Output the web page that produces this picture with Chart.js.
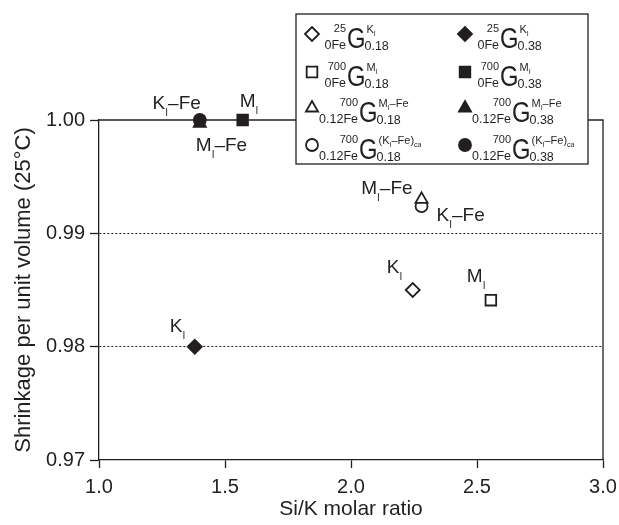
<!DOCTYPE html>
<html>
<head>
<meta charset="utf-8">
<script src="https://cdn.jsdelivr.net/npm/chart.js@4.4.1/dist/chart.umd.min.js"></script>
<style>
html, body { margin: 0; padding: 0; background: #fff; }
</style>
</head>
<body>
<canvas id="myChart" width="619" height="525"></canvas>
<script>
const ink = '#231f20';
const face = '"Liberation Sans", Arial, Helvetica, sans-serif';

// one point per gel: Si/K molar ratio vs shrinkage per unit volume at 25 C
const pointNames = ['K', 'K', 'M', 'M', 'M–Fe', 'M–Fe', 'K–Fe', 'K–Fe'];
const siK = [2.245, 1.38, 2.555, 1.57, 2.28, 1.40, 2.28, 1.40];
const shrinkage = [0.985, 0.980, 0.9841, 1.000, 0.9930, 0.9997, 0.9924, 1.000];
const pointStyles = ['rectRot', 'rectRot', 'rect', 'rect', 'triangle', 'triangle', 'circle', 'circle'];
const filled = [false, true, false, true, false, true, false, true];

// legend text pieces
const legendTemp = ['25', '25', '700', '700', '700', '700', '700', '700'];
const legendFe = ['0Fe', '0Fe', '0Fe', '0Fe', '0.12Fe', '0.12Fe', '0.12Fe', '0.12Fe'];
const legendRatio = ['0.18', '0.38', '0.18', '0.38', '0.18', '0.38', '0.18', '0.38'];

const xTicks = [1.0, 1.5, 2.0, 2.5, 3.0];
const yTicks = [0.97, 0.98, 0.99, 1.00];

// where each point label sits relative to its marker (px)
const labelPos = [
    {dx: -26, dy: -17, align: 'left'},
    {dx: -25, dy: -15, align: 'left'},
    {dx: -24, dy: -18, align: 'left'},
    {dx: -3, dy: -13, align: 'left'},
    {dx: -9, dy: -5, align: 'right'},
    {dx: -4, dy: 28, align: 'left'},
    {dx: 15, dy: 15, align: 'left'},
    {dx: 1, dy: -11, align: 'right'},
];
const radii = [7, 7, 7.5, 7.5, 7, 7, 6, 6];

function drawRich(ctx, x, y, parts, align) {
    let w = 0;
    parts.forEach(p => {
        ctx.font = p.s + 'px ' + face;
        p.w = ctx.measureText(p.t).width * (p.sx || 1);
        w += p.w;
    });
    let cx = align === 'right' ? x - w : x;
    ctx.textAlign = 'left';
    ctx.textBaseline = 'alphabetic';
    parts.forEach(p => {
        ctx.font = p.s + 'px ' + face;
        ctx.save();
        ctx.translate(cx, y + (p.dy || 0));
        ctx.scale(p.sx || 1, 1);
        ctx.fillText(p.t, 0, 0);
        ctx.restore();
        cx += p.w;
    });
    return w;
}

// name like 'K–Fe' -> K, subscript I, –Fe
function nameParts(name, big, small, drop) {
    return [
        {t: name[0], s: big},
        {t: 'I', s: small, dy: drop},
        {t: name.slice(1), s: big},
    ];
}

function marker(ctx, i, x, y) {
    ctx.save();
    ctx.fillStyle = filled[i] ? ink : '#fff';
    ctx.strokeStyle = ink;
    ctx.lineWidth = 1.8;
    Chart.helpers.drawPoint(ctx, {pointStyle: pointStyles[i], radius: radii[i], borderWidth: 1.8, rotation: 0}, x, y);
    ctx.restore();
}

const extras = {
    id: 'extras',
    beforeDatasetsDraw(chart) {
        const ctx = chart.ctx;
        const a = chart.chartArea;
        ctx.save();
        ctx.strokeStyle = ink;
        ctx.lineWidth = 1.3;
        ctx.beginPath();
        ctx.moveTo(a.left, a.top);
        ctx.lineTo(a.right, a.top);
        ctx.lineTo(a.right, a.bottom);
        ctx.stroke();
        ctx.restore();
    },
    afterDraw(chart) {
        const ctx = chart.ctx;
        const xs = chart.scales.x;
        const ys = chart.scales.y;
        ctx.save();
        ctx.fillStyle = ink;
        // point labels
        siK.forEach((v, i) => {
            const px = xs.getPixelForValue(v);
            const py = ys.getPixelForValue(shrinkage[i]);
            const lp = labelPos[i];
            drawRich(ctx, px + lp.dx, py + lp.dy, nameParts(pointNames[i], 19, 10, 7), lp.align);
        });

        // legend box
        const bx = 296, by = 14, bw = 292, bh = 150;
        ctx.fillStyle = '#fff';
        ctx.fillRect(bx, by, bw, bh);
        ctx.strokeStyle = ink;
        ctx.lineWidth = 1.3;
        ctx.strokeRect(bx, by, bw, bh);

        const colX = [312, 465];
        const rowY = [34, 72, 108, 145];
        for (let i = 0; i < 8; i++) {
            const mx = colX[i % 2];
            const my = rowY[Math.floor(i / 2)];
            marker(ctx, i, mx, my);
            ctx.fillStyle = ink;
            const gx = mx + (legendFe[i] === '0Fe' ? 35 : 47);
            const gy = my + 14;
            // left super/sub scripts, right aligned against G
            drawRich(ctx, gx - 1, gy - 16, [{t: legendTemp[i], s: 11}], 'right');
            drawRich(ctx, gx - 1, gy + 1, [{t: legendFe[i], s: 12.5}], 'right');
            const gw = drawRich(ctx, gx, gy, [{t: 'G', s: 29, sx: 0.82}], 'left');
            let sup;
            const nm = pointNames[i];
            if (nm === 'K–Fe') {
                sup = [{t: '(', s: 11}].concat(nameParts('K–Fe', 11, 7, 3))
                    .concat([{t: ')', s: 11}, {t: 'ca', s: 7, dy: 3}]);
            } else {
                sup = nameParts(nm, 11, 7, 3);
            }
            drawRich(ctx, gx + gw + 1, gy - 15, sup, 'left');
            drawRich(ctx, gx + gw - 1, gy + 2, [{t: legendRatio[i], s: 12.5}], 'left');
        }
        ctx.restore();
    }
};

const ctx = document.getElementById('myChart');
new Chart(ctx, {
    type: 'scatter',
    data: {
        datasets: siK.map((v, i) => ({
            label: pointNames[i],
            data: [{x: v, y: shrinkage[i]}],
            pointStyle: pointStyles[i],
            pointRadius: radii[i],
            pointHoverRadius: radii[i],
            pointBackgroundColor: filled[i] ? ink : '#fff',
            pointBorderColor: ink,
            pointBorderWidth: 1.8,
            clip: false,
        })),
    },
    options: {
        responsive: false,
        animation: false,
        devicePixelRatio: 1,
        layout: {
            padding: {top: 120, right: 16, left: 0, bottom: 0}
        },
        plugins: {
            legend: {display: false},
            tooltip: {enabled: false},
        },
        scales: {
            x: {
                type: 'linear',
                min: 1,
                max: 3,
                afterBuildTicks: s => { s.ticks = xTicks.map(v => ({value: v})); },
                afterFit: s => {
                    s.height = 65;
                    s.paddingLeft = 0;
                    s.paddingRight = 0;
                },
                ticks: {
                    callback: v => Number(v).toFixed(1),
                    color: ink,
                    font: {family: face, size: 20},
                    padding: 7,
                    maxRotation: 0,
                },
                grid: {
                    drawOnChartArea: false,
                    tickLength: 8,
                    tickColor: ink,
                    tickWidth: 1.3,
                },
                border: {color: ink, width: 1.3},
                title: {
                    display: true,
                    text: 'Si/K molar ratio',
                    color: ink,
                    font: {family: face, size: 21},
                    padding: {top: 0, bottom: 3},
                },
            },
            y: {
                type: 'linear',
                min: 0.97,
                max: 1.00,
                afterBuildTicks: s => { s.ticks = yTicks.map(v => ({value: v})); },
                afterFit: s => { s.width = 99; },
                ticks: {
                    callback: v => Number(v).toFixed(2),
                    color: ink,
                    font: {family: face, size: 20},
                    padding: 5,
                },
                grid: {
                    color: c => (c.tick && c.tick.value > 0.971 && c.tick.value < 0.999) ? ink : 'rgba(0,0,0,0)',
                    lineWidth: 1,
                    tickLength: 9,
                    tickColor: ink,
                    tickWidth: 1.3,
                },
                border: {color: ink, width: 1.3, dash: [2, 2]},
                title: {
                    display: true,
                    text: 'Shrinkage per unit volume (25°C)',
                    color: ink,
                    font: {family: face, size: 22},
                    padding: {top: 11, bottom: 0},
                },
            },
        },
    },
    plugins: [extras],
});
</script>
</body>
</html>
